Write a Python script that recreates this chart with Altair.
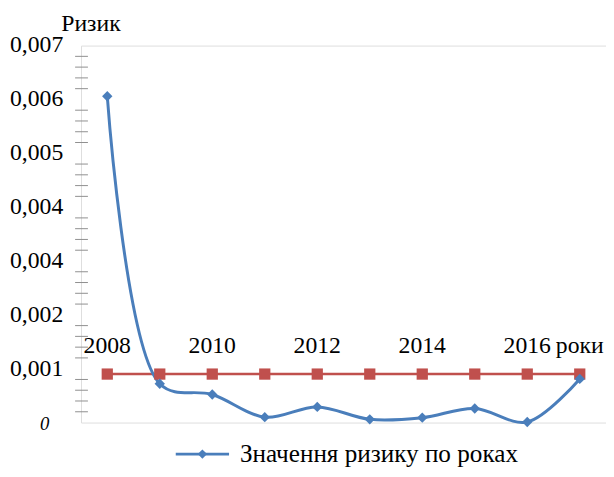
import altair as alt
import pandas as pd

# ---- data ----
years = [2008, 2009, 2010, 2011, 2012, 2013, 2014, 2015, 2016, 2017]
risk = [0.00606, 0.00072, 0.00052, 0.00010, 0.00029, 0.00006, 0.00009, 0.00026, 0.00001, 0.00081]
threshold = [0.0009, 0.0009, 0.0009, 0.0009, 0.0009, 0.0009, 0.0009, 0.0009, 0.0009, 0.0009]
y_tick_values = [0.001, 0.002, 0.003, 0.004, 0.005, 0.006, 0.007]
y_tick_labels = ["0,001", "0,002", "0,004", "0,004", "0,005", "0,006", "0,007"]
zero_label = ["0"]
year_label_values = [2008, 2010, 2012, 2014, 2016]
year_label_texts = ["2008", "2010", "2012", "2014", "2016"]
units_label = ["роки"]
y_title = ["Ризик"]
legend_label = ["Значення ризику по роках"]

FONT = "Times New Roman, Liberation Serif, Tinos, serif"
BLUE = "#4A7EBB"
RED = "#C0504D"
GRID = "#8E8E8E"

xs = alt.Scale(domain=[2007.5, 2017.5], nice=False, zero=False)
ys = alt.Scale(domain=[0, 0.007], nice=False)

df = pd.DataFrame({"year": years, "risk": risk, "threshold": threshold})
x_tick_vals = [2007.5 + 0.5 * i for i in range(21)]
minor_vals = [round(0.0002 * i, 4) for i in range(36) if i % 5 != 0]

base_axes = alt.Chart(pd.DataFrame({"v": y_tick_values, "lab": y_tick_labels})).mark_rule(opacity=0).encode(
    x=alt.X("v:Q", scale=xs, axis=alt.Axis(values=x_tick_vals, labels=False, title=None, grid=False,
                                           tickSize=8, tickColor=GRID, domainColor=GRID, ticks=True)),
    y=alt.Y("v:Q", scale=ys, axis=alt.Axis(values=y_tick_values, labels=False, title=None, grid=True,
                                           gridColor=GRID, tickSize=10, tickColor=GRID, domainColor=GRID)),
)

minor = alt.Chart(pd.DataFrame({"m": minor_vals})).mark_rule(color=GRID, strokeWidth=1).encode(
    y=alt.Y("m:Q", scale=ys, axis=None), x=alt.value(-6), x2=alt.value(7)
)

ylabels = alt.Chart(pd.DataFrame({"v": y_tick_values, "lab": y_tick_labels})).mark_text(
    font=FONT, fontSize=24, align="right", baseline="middle", color="black"
).encode(y=alt.Y("v:Q", scale=ys, axis=None), x=alt.value(-18), text="lab:N")

zlabel = alt.Chart(pd.DataFrame({"lab": zero_label})).mark_text(
    font=FONT, fontSize=19, fontStyle="italic", align="right", baseline="middle", color="black"
).encode(y=alt.value(384), x=alt.value(-32), text="lab:N")

title = alt.Chart(pd.DataFrame({"lab": y_title})).mark_text(
    font=FONT, fontSize=24, align="left", baseline="middle", color="black"
).encode(y=alt.value(-22), x=alt.value(-20), text="lab:N")

thr_line = alt.Chart(df).mark_line(color=RED, strokeWidth=2.5).encode(
    x=alt.X("year:Q", scale=xs, axis=None), y=alt.Y("threshold:Q", scale=ys, axis=None)
)
thr_pts = alt.Chart(df).mark_point(shape="square", filled=True, color=RED, size=130, opacity=1).encode(
    x=alt.X("year:Q", scale=xs, axis=None), y=alt.Y("threshold:Q", scale=ys, axis=None)
)
risk_line = alt.Chart(df).mark_line(color=BLUE, strokeWidth=3, interpolate="catmull-rom").encode(
    x=alt.X("year:Q", scale=xs, axis=None), y=alt.Y("risk:Q", scale=ys, axis=None)
)
risk_pts = alt.Chart(df).mark_point(shape="diamond", filled=True, color=BLUE, size=110, opacity=1).encode(
    x=alt.X("year:Q", scale=xs, axis=None), y=alt.Y("risk:Q", scale=ys, axis=None)
)

yearlabels = alt.Chart(pd.DataFrame({"y": year_label_values, "t": year_label_texts})).mark_text(
    font=FONT, fontSize=24, align="center", baseline="middle", color="black"
).encode(x=alt.X("y:Q", scale=xs, axis=None), y=alt.value(305), text="t:N")

units = alt.Chart(pd.DataFrame({"t": units_label})).mark_text(
    font=FONT, fontSize=24, align="left", baseline="middle", color="black", dx=29
).encode(x=alt.X("y:Q", scale=xs, axis=None), y=alt.value(305), text="t:N").transform_calculate(y="2016")

LY = 414
leg_line = alt.Chart(pd.DataFrame({"t": legend_label})).mark_rule(color=BLUE, strokeWidth=3).encode(
    x=alt.value(96), x2=alt.value(150), y=alt.value(LY)
)
leg_pt = alt.Chart(pd.DataFrame({"t": legend_label})).mark_point(
    shape="diamond", filled=True, color=BLUE, size=90, opacity=1
).encode(x=alt.value(123), y=alt.value(LY))
leg_text = alt.Chart(pd.DataFrame({"t": legend_label})).mark_text(
    font=FONT, fontSize=25.5, align="left", baseline="middle", color="black"
).encode(x=alt.value(161), y=alt.value(LY), text="t:N")

chart = alt.layer(
    base_axes, minor, ylabels, zlabel, title, thr_line, risk_line, thr_pts, risk_pts,
    yearlabels, units, leg_line, leg_pt, leg_text
).properties(
    width=532, height=382,
    autosize=alt.AutoSizeParams(type="none"),
    padding={"left": 74, "top": 35, "right": 0, "bottom": 44},
).configure_view(stroke=None).configure(background="white")

chart.save("out.html", embed_options={"renderer": "svg", "actions": False})
